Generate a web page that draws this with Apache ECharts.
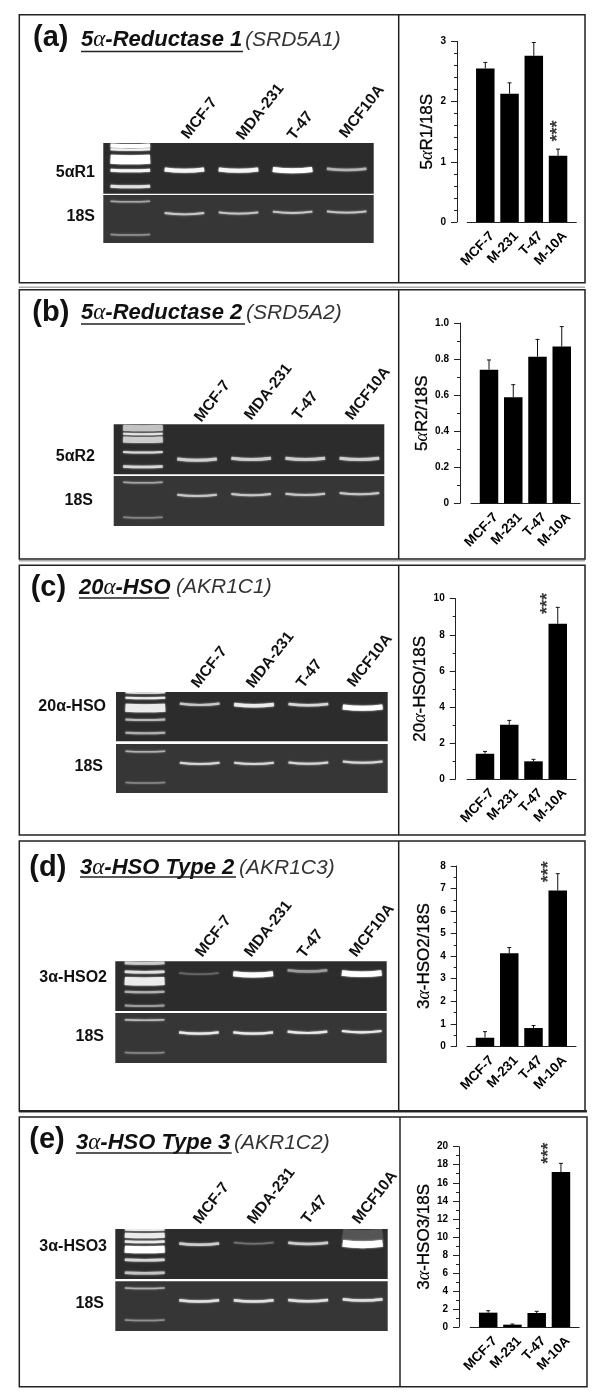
<!DOCTYPE html>
<html><head><meta charset="utf-8">
<style>html,body{margin:0;padding:0;background:#fff}#c{width:600px;height:1400px}</style>
<script src="https://cdn.jsdelivr.net/npm/echarts@6/dist/echarts.min.js"></script>
</head><body><div id="c"></div>
<script>
// ---- data ----
const barCategories = ['MCF-7','M-231','T-47','M-10A'];
const laneNames = ['MCF-7','MDA-231','T-47','MCF10A'];

const valuesA = [2.55,2.13,2.76,1.10];  const errTopA = [2.65,2.31,2.98,1.21];
const valuesB = [0.741,0.588,0.813,0.869]; const errTopB = [0.795,0.658,0.909,0.980];
const valuesC = [1.40,3.01,0.98,8.61];  const errTopC = [1.53,3.25,1.09,9.52];
const valuesD = [0.38,4.13,0.81,6.91];  const errTopD = [0.65,4.38,0.92,7.66];
const valuesE = [1.59,0.26,1.55,17.19]; const errTopE = [1.81,0.33,1.74,18.15];

const starsA = [[3,1.41]];
const starsB = [];
const starsC = [[2.6,9.4]];
const starsD = [[2.64,7.48]];
const starsE = [[2.52,18.6]];

// gel bands: [lane, migration, thickness, brightness]; lane 0 is the ladder
const gelTopA = [[0,3,4,1],[0,6.8,2,.95],[0,16.7,9,1],[0,27.7,3,.95],[0,43.7,3,.85],[1,27.7,4,.95],[2,27.7,4,.95],[3,27.7,5,1],[4,27,2.5,.62]];
const gelBotA = [[0,6.7,1.5,.55],[0,40,1.5,.45],[1,19.3,1.8,.72],[2,18.7,1.8,.72],[3,18,1.8,.72],[4,17.7,1.8,.72]];
const gelTopB = [[0,4,6,.7],[0,10,2,.85],[0,15.7,6,.75],[0,28.3,2,.8],[0,42.7,2.5,.8],[1,36,3,.75],[2,35.3,3,.75],[3,35.3,3,.75],[4,35.3,3,.75]];
const gelBotB = [[0,6.7,1.5,.55],[0,41.7,1.5,.4],[1,20,2,.72],[2,19.3,2,.72],[3,19,2,.72],[4,18.3,2,.72]];
const gelTopC = [[0,1,1.5,.9],[0,6.3,2,.9],[0,16.3,8,.9],[0,28,2,.65],[0,41.3,2,.6],[1,13,2.2,.72],[2,13.7,3.5,.9],[3,13.3,2.5,.8],[4,16.3,5,1]];
const gelBotC = [[0,7.7,1.5,.6],[0,39,1.5,.4],[1,20,2,.8],[2,20,2,.8],[3,19.7,2,.8],[4,18.7,2,.8]];
const gelTopD = [[0,2,3,.75],[0,11,2.5,.85],[0,20.3,8,.9],[0,31,2,.6],[0,44.7,2,.5],[1,13,1.5,.25],[2,13.7,5,1],[3,10.3,2.5,.5],[4,13,5.5,1]];
const gelBotD = [[0,7.3,1.5,.65],[0,40,1.5,.4],[1,20.7,2.2,.9],[2,20.7,2.2,.9],[3,20,2.2,.9],[4,19.3,2.2,.9]];
const gelTopE = [[0,1,2,.9],[0,6.7,5,.9],[0,13,2.5,.9],[0,20.7,7,1],[0,31.3,2.5,.8],[0,44.3,2.5,.7],[1,15.7,2.5,.75],[2,14.7,1.5,.3],[3,15,2.5,.75],[4,7,12,.15],[4,15.7,7,1]];
const gelBotE = [[0,7.3,1.5,.6],[0,39.3,1.5,.45],[1,20.3,2.5,.85],[2,20.3,2.5,.85],[3,20,2.5,.85],[4,19.3,2.5,.85]];

// ---- layout ----
const SANS = '"Liberation Sans",Arial,sans-serif';
const panels = [
 {tag:'(a)',tagX:33,tagY:38,runs:['5','-Reductase 1'],tX:81,tY:40,ulEnd:243,ulY:51.5,gene:'(SRD5A1)',gX:245,gY:40,
  vals:valuesA,errs:errTopA,stars:starsA,name:'{t|5}{g|α}{t|R1/18S}',nameGap:21,max:3,interval:1,minorSplit:5,dec:0,
  axisX:457,barX:485.3,y3:41.3,y0:222,
  gel:{l:103.3,r:373.7,t0:143,t1:193.7,b0:195,b1:243,shift:0,top:gelTopA,bot:gelBotA},
  labs:[['5αR1',95,172.7],['18S',95,217]],
  lanes:[[182,139],[237,140],[288,140],[340,138]]},
 {tag:'(b)',tagX:32.3,tagY:313,runs:['5','-Reductase 2'],tX:81,tY:313,ulEnd:245,ulY:324,gene:'(SRD5A2)',gX:246,gY:313,
  vals:valuesB,errs:errTopB,stars:starsB,name:'{t|5}{g|α}{t|R2/18S}',nameGap:28,max:1,interval:.2,minorSplit:2,dec:1,
  axisX:460,barX:489,y3:323,y0:503.3,
  gel:{l:113.7,r:384.3,t0:424.3,t1:474.3,b0:476,b1:526,shift:.04,top:gelTopB,bot:gelBotB},
  labs:[['5αR2',95,457],['18S',93,501]],
  lanes:[[195,422],[245,420],[293,420],[346,420]]},
 {tag:'(c)',tagX:30.7,tagY:588,runs:['20','-HSO'],tX:79,tY:588,ulEnd:169,ulY:598,gene:'(AKR1C1)',gX:176,gY:587,
  vals:valuesC,errs:errTopC,stars:starsC,name:'{t|20}{g|α}{t|-HSO/18S}',nameGap:23,max:10,interval:2,minorSplit:2,dec:0,
  axisX:455.7,barX:485,y3:598.7,y0:779,
  gel:{l:116,r:387.7,t0:692,t1:741.3,b0:744,b1:793,shift:.04,top:gelTopC,bot:gelBotC},
  labs:[['20α-HSO',106,707],['18S',103,767]],
  lanes:[[192,688],[247,688],[297,688],[348,687]]},
 {tag:'(d)',tagX:29.3,tagY:868,runs:['3','-HSO Type 2'],tX:80,tY:868,ulEnd:236,ulY:877,gene:'(AKR1C3)',gX:239,gY:868,
  vals:valuesD,errs:errTopD,stars:starsD,name:'{t|3}{g|α}{t|-HSO2/18S}',nameGap:23,max:8,interval:1,minorSplit:2,dec:0,
  axisX:456.7,barX:485,y3:866,y0:1046.3,
  gel:{l:115.3,r:386.7,t0:961.3,t1:1011,b0:1013,b1:1063,shift:.04,top:gelTopD,bot:gelBotD},
  labs:[['3α-HSO2',107,978],['18S',104,1037]],
  lanes:[[196,957],[245,957],[298,958],[350,957]]},
 {tag:'(e)',tagX:29.3,tagY:1140,runs:['3','-HSO Type 3'],tX:76,tY:1143,ulEnd:231.7,ulY:1153,gene:'(AKR1C2)',gX:234,gY:1143,
  vals:valuesE,errs:errTopE,stars:starsE,name:'{t|3}{g|α}{t|-HSO3/18S}',nameGap:25,max:20,interval:2,minorSplit:2,dec:0,
  axisX:459,barX:488.2,y3:1146.7,y0:1327,
  gel:{l:115.3,r:387.7,t0:1229,t1:1279,b0:1281.3,b1:1331,shift:.04,top:gelTopE,bot:gelBotE},
  labs:[['3α-HSO3',107,1247],['18S',104,1304]],
  lanes:[[194,1224],[248,1224],[302,1224],[353,1224]]}
];
const boxes = [
 {t:14.7,b:282.7,r:585,d:398.7},{t:289.7,b:559,r:585,d:398.7},{t:565.3,b:835,r:585,d:398.7},
 {t:841,b:1111,r:585,d:398.7},{t:1117,b:1386.7,r:587,d:400}
];

const grids=[],xAxes=[],yAxes=[],series=[],graphics=[];
const rect=(x,y,w,h,fill)=>({type:'rect',z:1,shape:{x,y,width:w,height:h},style:{fill}});

graphics.push(rect(19,286.5,566,1.5,'#aaa'),rect(19,560,566,1.5,'#aaa'));
boxes.forEach(b=>{
  graphics.push({type:'rect',z:2,shape:{x:19.3,y:b.t,width:b.r-19.3,height:b.b-b.t},style:{fill:'none',stroke:'#222',lineWidth:1.5}});
  graphics.push({type:'line',z:2,shape:{x1:b.d,y1:b.t,x2:b.d,y2:b.b},style:{stroke:'#222',lineWidth:1.5}});
});
graphics.push(rect(19,1110,568,2.5,'#333'));

function renderBand(params,api){
  const lane=api.value(0),mig=api.value(1),t=api.value(2),br=api.value(3);
  const half=api.size([0.365,0])[0];
  const c=api.coord([lane,mig]);
  const g=Math.round(55+200*br),col=`rgb(${g},${g},${g})`;
  const sag=lane===0?1:2.6;
  return {type:'bezierCurve',
    shape:{x1:c[0]-half,y1:c[1]-sag/2,x2:c[0]+half,y2:c[1]-sag/2,cpx1:c[0],cpy1:c[1]+sag/2},
    style:{fill:null,stroke:col,lineWidth:t,lineCap:'butt',shadowBlur:2,shadowColor:col}};
}
function renderErr(params,api){
  const i=api.value(0),a=api.coord([i,api.value(1)]),b=api.coord([i,api.value(2)]);
  const st={stroke:'#111',lineWidth:1,fill:null};
  return {type:'group',children:[
    {type:'line',shape:{x1:a[0],y1:a[1],x2:b[0],y2:b[1]},style:st},
    {type:'line',shape:{x1:b[0]-2,y1:b[1],x2:b[0]+2,y2:b[1]},style:st}]};
}
function addGel(p,y0,y1,data,bg){
  const idx=grids.length, g=p.gel;
  grids.push({left:g.l,top:y0,width:g.r-g.l,height:y1-y0,show:true,backgroundColor:bg,borderWidth:0});
  xAxes.push({type:'value',gridIndex:idx,min:-0.5-g.shift,max:4.5-g.shift,show:false});
  yAxes.push({type:'value',gridIndex:idx,min:0,max:y1-y0,inverse:true,show:false});
  series.push({type:'custom',xAxisIndex:idx,yAxisIndex:idx,clip:true,silent:true,animation:false,renderItem:renderBand,data});
}

panels.forEach(p=>{
  // bar chart
  const idx=grids.length, W=109, step=24.25;
  const left=p.barX-18;
  grids.push({left,top:p.y3,width:W,height:p.y0-p.y3});
  const offs=0.28;
  xAxes.push({type:'value',gridIndex:idx,min:-18/step,max:(W-18)/step,
    splitLine:{show:false},
    axisLine:{show:true,onZero:false,lineStyle:{color:'#222',width:1}},axisTick:{show:false},
    axisLabel:{show:true,customValues:[0,1,2,3].map(i=>i+offs),rotate:46,margin:12,hideOverlap:false,
      fontFamily:SANS,fontWeight:'bold',fontSize:13.5,color:'#000',
      formatter:v=>barCategories[Math.round(v-offs)]}});
  yAxes.push({type:'value',gridIndex:idx,min:0,max:p.max,interval:p.interval,offset:left-p.axisX,
    splitLine:{show:false},
    axisLine:{show:true,onZero:false,lineStyle:{color:'#222',width:1}},
    axisTick:{show:true,length:6,lineStyle:{color:'#222',width:1}},
    minorTick:{show:true,splitNumber:p.minorSplit,length:3,lineStyle:{color:'#222',width:1}},
    axisLabel:{margin:11,fontFamily:SANS,fontWeight:'bold',fontSize:10,color:'#000',
      formatter:v=>v===0?'0':v.toFixed(p.dec)},
    name:p.name,nameLocation:'middle',nameGap:p.nameGap,
    nameTextStyle:{rich:{t:{fontFamily:SANS,fontSize:17,color:'#000',textBorderColor:'#000',textBorderWidth:.3},g:{fontFamily:'"Liberation Serif",serif',fontStyle:'italic',fontSize:18,color:'#000'}}}});
  const pts=p.vals.map((v,i)=>[i,v]);
  series.push({type:'bar',xAxisIndex:idx,yAxisIndex:idx,barWidth:18.5,itemStyle:{color:'#000'},animation:false,silent:true,data:pts});
  series.push({type:'custom',xAxisIndex:idx,yAxisIndex:idx,clip:false,silent:true,animation:false,renderItem:renderErr,
    data:p.vals.map((v,i)=>[i,v,p.errs[i]])});
  if(p.stars.length) series.push({type:'scatter',xAxisIndex:idx,yAxisIndex:idx,symbolSize:1,itemStyle:{color:'rgba(0,0,0,0)'},silent:true,animation:false,data:p.stars,
    label:{show:true,position:'inside',offset:[6,0],formatter:'***',rotate:90,fontFamily:SANS,fontWeight:'bold',fontSize:18,color:'#000',textBorderWidth:0}});
  // gels
  addGel(p,p.gel.t0,p.gel.t1,p.gel.top,'#2c2c2c');
  addGel(p,p.gel.b0,p.gel.b1,p.gel.bot,'#363636');
  // texts
  graphics.push({type:'text',z:5,x:p.tagX,y:p.tagY,style:{text:p.tag,font:`bold 29px ${SANS}`,fill:'#111',verticalAlign:'middle',align:'left'}});
  graphics.push({type:'text',z:5,x:p.tX,y:p.tY,style:{
    text:`{b|${p.runs[0]}}{s|α}{b|${p.runs[1]}}`,verticalAlign:'middle',align:'left',
    rich:{b:{font:`italic bold 22px ${SANS}`,fill:'#111'},s:{font:'italic 23px "Liberation Serif",serif',fill:'#111'}}}});
  graphics.push({type:'line',z:5,shape:{x1:p.tX,y1:p.ulY,x2:p.ulEnd,y2:p.ulY},style:{stroke:'#222',lineWidth:1.3}});
  graphics.push({type:'text',z:5,x:p.gX,y:p.gY,style:{text:p.gene,font:`italic 21px ${SANS}`,fill:'#333',verticalAlign:'middle',align:'left'}});
  p.labs.forEach(l=>graphics.push({type:'text',z:5,x:l[1],y:l[2],style:{text:l[0],font:`bold 16px ${SANS}`,fill:'#111',align:'right',verticalAlign:'middle'}}));
  p.lanes.forEach((l,i)=>graphics.push({type:'text',z:5,x:l[0]+3,y:l[1]-2,rotation:52*Math.PI/180,style:{text:laneNames[i],font:`bold 15.5px ${SANS}`,fill:'#111',align:'left',verticalAlign:'middle'}}));
});

const chart=echarts.init(document.getElementById('c'),null,{renderer:'canvas',width:600,height:1400});
chart.setOption({animation:false,backgroundColor:'#fff',grid:grids,xAxis:xAxes,yAxis:yAxes,series,graphic:{elements:graphics}});
</script></body></html>
